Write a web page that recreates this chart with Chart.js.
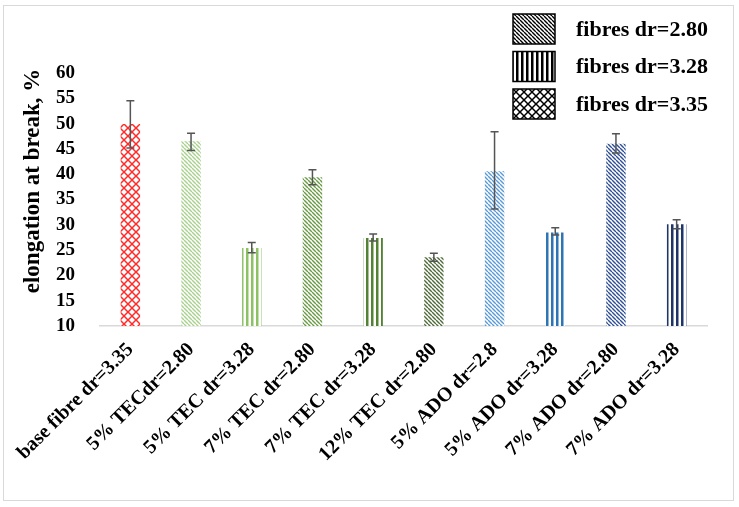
<!DOCTYPE html>
<html>
<head>
<meta charset="utf-8">
<script src="https://cdn.jsdelivr.net/npm/chart.js@4.4.1/dist/chart.umd.min.js"></script>
<style>
  html, body { margin: 0; padding: 0; background: #fff; }
  #wrap { width: 739px; height: 507px; position: relative; }
</style>
</head>
<body>
<div id="wrap"><canvas id="elongChart" width="739" height="507"></canvas></div>
<script>
// data
const samples = [
  "base fibre dr=3.35", "5% TECdr=2.80", "5% TEC dr=3.28", "7% TEC dr=2.80",
  "7% TEC dr=3.28", "12% TEC dr=2.80", "5% ADO dr=2.8", "5% ADO dr=3.28",
  "7% ADO dr=2.80", "7% ADO dr=3.28"
];
const elongation = [49.9, 46.5, 25.4, 39.4, 27.4, 23.6, 40.6, 28.5, 46.0, 30.1];
const errHigh = [54.5, 48.1, 26.5, 40.9, 28.2, 24.4, 48.4, 29.4, 48.0, 31.0];
const errLow = [45.2, 44.7, 24.5, 37.9, 26.8, 22.8, 33.1, 28.0, 44.2, 29.2];
const drKind = ["3.35", "2.80", "3.28", "2.80", "3.28", "2.80", "2.80", "3.28", "2.80", "3.28"];
const legendKinds = ["2.80", "3.28", "3.35"];
const yTicks = [10, 15, 20, 25, 30, 35, 40, 45, 50, 55, 60];
const yTitle = "elongation at break, %";

const barColors = ["#ff2a2a", "#a9d18e", "#8cc265", "#6a9a45", "#548235",
  "#4e6b3a", "#5b9bd5", "#2e75b6", "#2f4f94", "#1f3468"];

const serif = "'Liberation Serif', 'DejaVu Serif', serif";

// build fill patterns
let makePattern = (kind, color) => {
  const c = document.createElement("canvas");
  const ctx = c.getContext("2d");
  if (kind == "3.28") {
    c.width = 5; c.height = 5;
    ctx.fillStyle = "#fff";
    ctx.fillRect(0, 0, 5, 5);
    ctx.fillStyle = color;
    ctx.fillRect(1, 0, 2.5, 5);
  } else if (kind == "2.80") {
    c.width = 4; c.height = 4;
    ctx.fillStyle = "#fff";
    ctx.fillRect(0, 0, 4, 4);
    ctx.strokeStyle = color;
    ctx.lineWidth = 1.4;
    ctx.beginPath();
    for (let o = -4; o <= 4; o += 4) {
      ctx.moveTo(o, 0);
      ctx.lineTo(o + 4, 4);
    }
    ctx.stroke();
  } else {
    c.width = 8; c.height = 8;
    ctx.fillStyle = "#fff";
    ctx.fillRect(0, 0, 8, 8);
    ctx.strokeStyle = color;
    ctx.lineWidth = 1.5;
    ctx.beginPath();
    ctx.moveTo(0, 0); ctx.lineTo(8, 8);
    ctx.moveTo(8, 0); ctx.lineTo(0, 8);
    ctx.stroke();
  }
  return ctx.createPattern(c, "repeat");
};

let fills = drKind.map((k, i) => makePattern(k, barColors[i]));

const errorBars = {
  id: "errorBars",
  afterDatasetsDraw(chart) {
    const ctx = chart.ctx;
    const meta = chart.getDatasetMeta(0);
    const y = chart.scales.y;
    ctx.save();
    ctx.strokeStyle = "#555";
    ctx.lineWidth = 1.5;
    meta.data.forEach((bar, i) => {
      const yh = y.getPixelForValue(errHigh[i]);
      const yl = y.getPixelForValue(errLow[i]);
      ctx.beginPath();
      ctx.moveTo(bar.x, yh); ctx.lineTo(bar.x, yl);
      ctx.moveTo(bar.x - 4, yh); ctx.lineTo(bar.x + 4, yh);
      ctx.moveTo(bar.x - 4, yl); ctx.lineTo(bar.x + 4, yl);
      ctx.stroke();
    });
    ctx.restore();
  }
};

const frameAndLegend = {
  id: "frameAndLegend",
  beforeDraw(chart) {
    const ctx = chart.ctx;
    ctx.save();
    ctx.fillStyle = "#fff";
    ctx.fillRect(0, 0, chart.width, chart.height);
    ctx.strokeStyle = "#d9d9d9";
    ctx.lineWidth = 1;
    ctx.strokeRect(3.5, 5.5, 730, 495);
    ctx.restore();
  },
  afterDraw(chart) {
    const ctx = chart.ctx;
    ctx.save();
    // y axis title, sits a bit above the middle of the axis
    ctx.translate(33, 181);
    ctx.rotate(-Math.PI / 2);
    ctx.fillStyle = "#000";
    ctx.font = "bold 23px " + serif;
    ctx.textAlign = "center";
    ctx.textBaseline = "middle";
    ctx.fillText(yTitle, 0, 0);
    ctx.restore();

    ctx.save();
    legendKinds.forEach((k, i) => {
      const top = 14 + i * 37.5;
      ctx.fillStyle = makePattern(k, "#000");
      ctx.fillRect(513, top, 42, 30);
      ctx.strokeStyle = "#000";
      ctx.lineWidth = 1.5;
      ctx.strokeRect(513, top, 42, 30);
      ctx.fillStyle = "#000";
      ctx.font = "bold 22px " + serif;
      ctx.textBaseline = "middle";
      ctx.fillText("fibres dr=" + k, 576, top + 16);
    });
    ctx.restore();
  }
};

new Chart("elongChart", {
  type: "bar",
  data: {
    labels: samples,
    datasets: [
      {
        data: elongation,
        backgroundColor: fills,
        borderWidth: 0,
        categoryPercentage: 1,
        barPercentage: 0.32,
      },
    ],
  },
  options: {
    responsive: false,
    animation: false,
    events: [],
    layout: { padding: { left: 0, top: 73, right: 32, bottom: 0 } },
    plugins: { legend: { display: false }, tooltip: { enabled: false } },
    scales: {
      x: {
        grid: { display: false },
        border: { display: true, color: "#d9d9d9", width: 1.5 },
        afterFit: (scale) => { scale.height = 181; },
        ticks: {
          autoSkip: false,
          minRotation: 45,
          maxRotation: 45,
          padding: 4,
          color: "#000",
          font: { family: serif, size: 20, weight: "bold" },
        },
      },
      y: {
        min: 10,
        max: 60,
        grid: { display: false },
        border: { display: false },
        afterFit: (scale) => { scale.width = 100; },
        afterBuildTicks: (scale) => { scale.ticks = yTicks.map((v) => ({ value: v })); },
        ticks: {
          autoSkip: false,
          padding: 17,
          color: "#000",
          font: { family: serif, size: 19, weight: "bold" },
        },
      },
    },
  },
  plugins: [errorBars, frameAndLegend],
});
</script>
</body>
</html>
